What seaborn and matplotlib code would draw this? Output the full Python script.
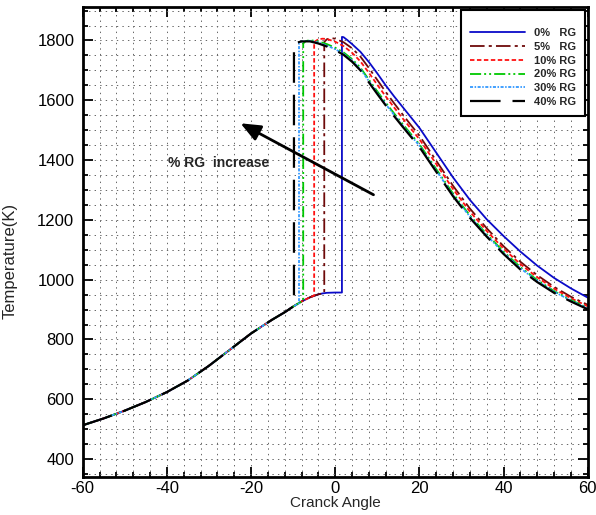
import matplotlib
matplotlib.use("Agg")
import matplotlib.pyplot as plt
from matplotlib.ticker import MultipleLocator
from matplotlib.lines import Line2D
import pandas as pd
import seaborn as sns

# Shared compression-stroke temperature trace
comp_angle = [-60, -55, -50, -45, -40, -35, -30, -25, -20, -15, -12, -10, -8, -6, -4, -3, -2, 0, 2]
comp_temp = [513, 536, 562, 591, 624, 663, 712, 766, 820, 866, 891, 910, 927, 941, 951, 954, 956, 957, 957]

cases = ["0%   RG", "5%   RG", "10% RG", "20% RG", "30% RG", "40% RG"]

# Ignition angle and the temperature just before the jump
jump_angle = [1.6, -2.6, -5.0, -7.6, -8.6, -9.8]
jump_base = [957, 955, 947, 930, 921, 912]

# Combustion / expansion traces
rg0_angle = [1.6, 2, 3, 4, 6, 8, 10, 12, 14, 16, 18, 20, 24, 28, 32, 36, 40, 44, 48, 52, 56, 60]
rg0_temp = [1812, 1811, 1800, 1788, 1762, 1728, 1690, 1650, 1613, 1578, 1543, 1508, 1425, 1342, 1267,
            1202, 1146, 1094, 1047, 1006, 971, 940]
rg5_angle = [-2.6, -2, -1, 0, 2, 4, 6, 8, 10, 12, 14, 16, 18, 20, 24, 28, 32, 36, 40, 44, 48, 52, 56, 60]
rg5_temp = [1795, 1804, 1808, 1806, 1794, 1774, 1746, 1708, 1668, 1628, 1590, 1553, 1517, 1482, 1398,
            1314, 1238, 1172, 1112, 1060, 1015, 976, 943, 916]
rg10_angle = [-5, -4, -3, -2, 0, 2, 4, 6, 8, 10, 12, 14, 16, 18, 20, 24, 28, 32, 36, 40, 44, 48, 52, 56, 60]
rg10_temp = [1795, 1804, 1806, 1805, 1796, 1781, 1759, 1730, 1692, 1652, 1613, 1576, 1540, 1505, 1470,
             1387, 1303, 1228, 1163, 1104, 1052, 1008, 970, 938, 911]
rg20_angle = [-7.6, -7, -6, -4, -2, 0, 2, 4, 6, 8, 10, 12, 14, 16, 18, 20, 24, 28, 32, 36, 40, 44, 48,
              52, 56, 60]
rg20_temp = [1790, 1798, 1801, 1797, 1788, 1776, 1760, 1738, 1709, 1669, 1630, 1592, 1556, 1521, 1487,
             1453, 1370, 1288, 1215, 1152, 1094, 1042, 999, 962, 932, 906]
rg30_angle = [-8.6, -8, -6, -4, -2, 0, 2, 4, 6, 8, 10, 12, 14, 16, 18, 20, 24, 28, 32, 36, 40, 44, 48,
              52, 56, 60]
rg30_temp = [1790, 1797, 1799, 1793, 1783, 1771, 1755, 1733, 1704, 1664, 1625, 1587, 1551, 1516, 1482,
             1448, 1365, 1283, 1211, 1148, 1090, 1038, 996, 960, 930, 904]
rg40_angle = [-9.8, -9, -8, -6, -4, -2, 0, 2, 4, 6, 8, 10, 12, 14, 16, 18, 20, 24, 28, 32, 36, 40, 44,
              48, 52, 56, 60]
rg40_temp = [1785, 1793, 1797, 1797, 1790, 1780, 1768, 1752, 1729, 1700, 1660, 1621, 1583, 1547, 1512,
             1478, 1444, 1361, 1279, 1207, 1144, 1086, 1034, 992, 956, 927, 901]

exp_angles = [rg0_angle, rg5_angle, rg10_angle, rg20_angle, rg30_angle, rg40_angle]
exp_temps = [rg0_temp, rg5_temp, rg10_temp, rg20_temp, rg30_temp, rg40_temp]

colors = ["#0a0ac8", "#6e0a0a", "#ff1010", "#00c800", "#3399ff", "#000000"]
widths = [1.3, 1.3, 1.3, 1.3, 1.3, 1.6]
dash_styles = [
    "-",
    (0, (10.5, 3.0, 2.2, 3.0)),
    (0, (3.2, 1.8)),
    (0, (8.0, 2.2, 1.4, 2.2, 1.4, 2.2)),
    (0, (2.2, 1.1, 1.1, 1.1)),
    (0, (22.0, 8.6)),
]

sns.set_theme(style="ticks")
plt.rcParams["font.family"] = ["Liberation Sans", "DejaVu Sans"]
plt.rcParams["lines.scale_dashes"] = False
plt.rcParams["axes.unicode_minus"] = False

fig = plt.figure(figsize=(5.96, 5.15), dpi=100)
ax = fig.add_axes([82.7 / 596, 38 / 515, 505 / 596, 470 / 515])

frames = []
for name, ja, jb, ea, et in zip(cases, jump_angle, jump_base, exp_angles, exp_temps):
    pre = [(a, t) for a, t in zip(comp_angle, comp_temp) if a < ja]
    xs = [p[0] for p in pre] + [ja] + list(ea)
    ys = [p[1] for p in pre] + [jb] + list(et)
    frames.append(pd.DataFrame({"angle": xs, "temp": ys, "case": name}))
df = pd.concat(frames, ignore_index=True)

for name, col, lw, ls in zip(cases, colors, widths, dash_styles):
    sub = df[df["case"] == name]
    sns.lineplot(data=sub, x="angle", y="temp", ax=ax, color=col, linewidth=lw,
                 linestyle=ls, sort=False, estimator=None)

ax.set_xlim(-60, 60)
ax.set_ylim(340, 1912)
ax.xaxis.set_major_locator(MultipleLocator(20))
ax.xaxis.set_minor_locator(MultipleLocator(4))
ax.yaxis.set_major_locator(MultipleLocator(200))
ax.yaxis.set_minor_locator(MultipleLocator(50))

ax.grid(True, which="both", color="0.4", linestyle=(0, (1, 3)), linewidth=0.7)
ax.set_axisbelow(True)

ax.tick_params(which="both", direction="in", top=True, right=True, width=1.3,
               labelsize=12, colors="black")
ax.tick_params(axis="x", pad=3)
ax.tick_params(axis="y", pad=6)
ax.tick_params(which="major", length=7)
ax.tick_params(which="minor", length=3.5)
for sp in ax.spines.values():
    sp.set_linewidth(2.0)
    sp.set_color("black")

ax.set_xlabel("Cranck Angle", fontsize=11, labelpad=0)
ax.set_ylabel("Temperature(K)", fontsize=12)
ax.yaxis.set_label_coords(-0.128, 0.46)

ax.annotate("", xy=(-22.5, 1523), xytext=(9.1, 1284),
            arrowprops=dict(arrowstyle="-|>,head_length=0.6,head_width=0.25",
                            lw=2.0, color="black", mutation_scale=20,
                            shrinkA=0, shrinkB=0))
ax.text(-39.7, 1391, "% RG  increase", fontsize=10, fontweight="bold",
        ha="left", va="center")

handles = [Line2D([], [], color=c, lw=w, linestyle=s)
           for c, w, s in zip(colors, widths, dash_styles)]
leg = ax.legend(handles, cases, loc="upper right", bbox_to_anchor=(0.9946, 0.9936),
                borderaxespad=0, fancybox=False, framealpha=1, edgecolor="black",
                prop={"size": 8, "weight": "bold"}, handlelength=5.0,
                handletextpad=0.8, labelspacing=0.35, borderpad=0.8,
                title=" ", title_fontproperties={"size": 4})
leg.get_frame().set_linewidth(1.5)

fig.savefig("out.png", dpi=100)
